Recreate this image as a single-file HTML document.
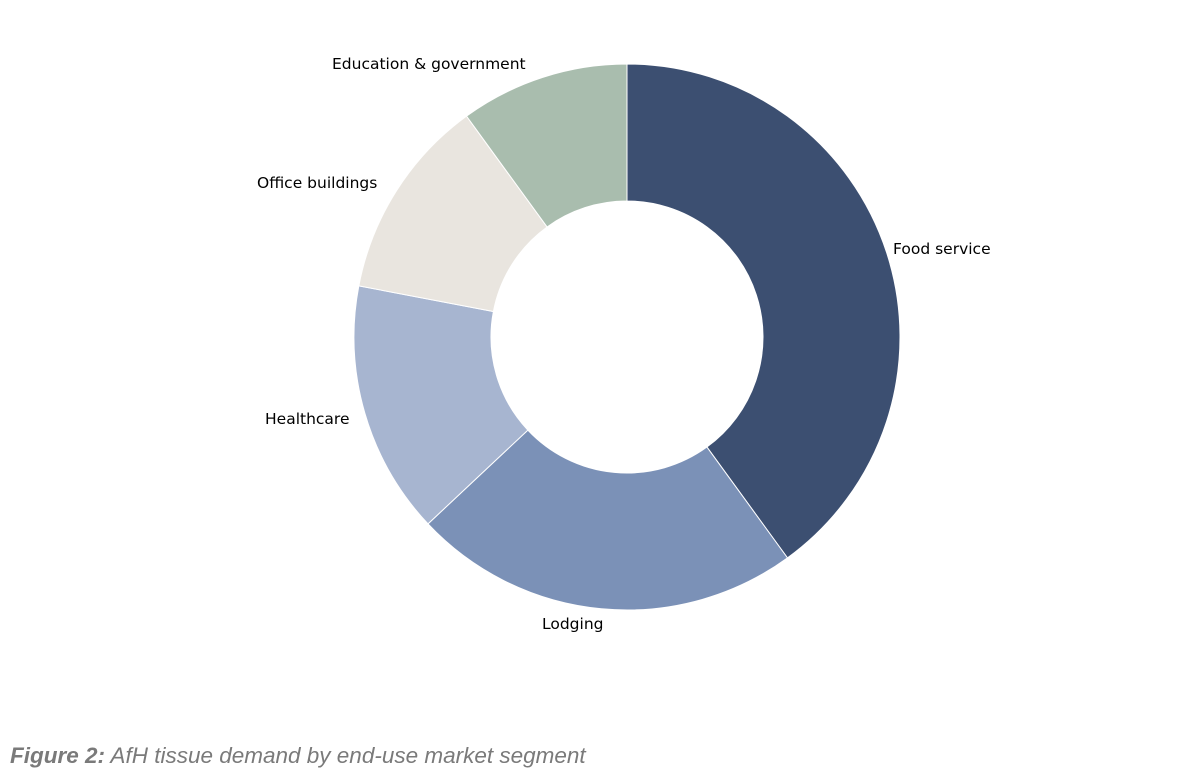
<!DOCTYPE html>
<html><head><meta charset="utf-8"><style>
html,body{margin:0;padding:0;background:#fff;width:1200px;height:781px;overflow:hidden}
svg{display:block}
.lbl{font-family:"DejaVu Sans","Liberation Sans",sans-serif;font-size:15.5px;fill:#000}
.cap{font-family:"Liberation Sans",sans-serif;font-style:italic;font-size:22.5px;fill:#7a7a7a}
</style></head><body>
<svg width="1200" height="781">
<g id="slices"></g>
<text class="lbl" x="332" y="69">Education &amp; government</text>
<text class="lbl" x="257" y="188">Office buildings</text>
<text class="lbl" x="893" y="254">Food service</text>
<text class="lbl" x="265" y="424">Healthcare</text>
<text class="lbl" x="542" y="629">Lodging</text>
<text class="cap" x="10" y="763"><tspan font-weight="bold">Figure 2:</tspan> AfH tissue demand by end-use market segment</text>
</svg>
<script>
const categories = ["Food service","Lodging","Healthcare","Office buildings","Education & government"];
const values = [40,23,15,12,10];
const colors = ["#3c4f71","#7b91b7","#a7b5d0","#e9e5df","#a9bdae"];
const cx=627, cy=337, R=273, r=136;
const g=document.getElementById('slices');
const total=values.reduce((a,b)=>a+b,0);
function pt(a,rad){return [cx+rad*Math.sin(a), cy-rad*Math.cos(a)];}
let a0=0;
values.forEach((v,i)=>{
  const a1=a0+v/total*2*Math.PI;
  const large=(a1-a0)>Math.PI?1:0;
  const [x0,y0]=pt(a0,R),[x1,y1]=pt(a1,R),[x2,y2]=pt(a1,r),[x3,y3]=pt(a0,r);
  const p=document.createElementNS('http://www.w3.org/2000/svg','path');
  p.setAttribute('d',`M${x0},${y0}A${R},${R} 0 ${large} 1 ${x1},${y1}L${x2},${y2}A${r},${r} 0 ${large} 0 ${x3},${y3}Z`);
  p.setAttribute('fill',colors[i]);
  p.setAttribute('stroke','#fff');
  p.setAttribute('stroke-width','1');
  
  
  g.appendChild(p);
  a0=a1;
});
</script>
</body></html>
